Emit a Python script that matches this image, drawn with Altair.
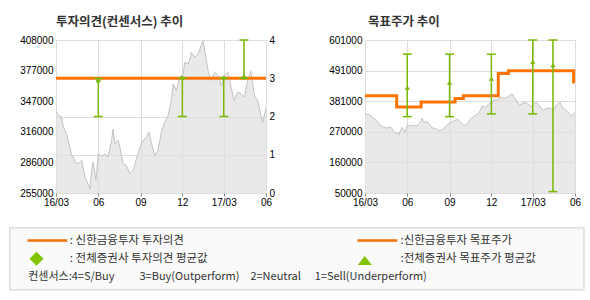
import altair as alt
import pandas as pd

# ---------------- data ----------------
price_dates = [
    "2016-03-01", "2016-03-06", "2016-03-13", "2016-03-17", "2016-03-24", "2016-03-31",
    "2016-04-04", "2016-04-08", "2016-04-11", "2016-04-19", "2016-04-26", "2016-05-03",
    "2016-05-08", "2016-05-14", "2016-05-17", "2016-05-21", "2016-05-27", "2016-06-01",
    "2016-06-08", "2016-06-15", "2016-06-22", "2016-06-30", "2016-07-03", "2016-07-07",
    "2016-07-14", "2016-07-18", "2016-07-25", "2016-08-01", "2016-08-09", "2016-08-16",
    "2016-08-23", "2016-08-31", "2016-09-07", "2016-09-14", "2016-09-19", "2016-09-25",
    "2016-10-02", "2016-10-09", "2016-10-17", "2016-10-24", "2016-10-31", "2016-11-07",
    "2016-11-11", "2016-11-18", "2016-11-25", "2016-12-03", "2016-12-06", "2016-12-14",
    "2016-12-21", "2016-12-28", "2017-01-04", "2017-01-11", "2017-01-15", "2017-01-20",
    "2017-01-26", "2017-02-01", "2017-02-10", "2017-02-17", "2017-02-24", "2017-03-03",
    "2017-03-10", "2017-03-17", "2017-03-24", "2017-03-31", "2017-04-08", "2017-04-15",
    "2017-04-22", "2017-04-29", "2017-05-07", "2017-05-14", "2017-05-21", "2017-05-25",
    "2017-06-01",
]
price_values = [
    337500, 332500, 331000, 320900, 314200, 300900,
    292600, 291000, 286000, 284300, 287600, 271000,
    266000, 259000, 276000, 286000, 267700, 294300,
    291000, 294300, 291000, 307600, 319000, 304000,
    307600, 300900, 284300, 282600, 274300, 277600,
    289300, 300900, 307600, 310900, 315900, 304200,
    292600, 297600, 317500, 325900, 332500, 347500,
    364000, 357400, 370800, 374100, 385700, 384000,
    395700, 390700, 394000, 402300, 407300, 394000,
    377400, 367400, 375700, 372400, 362400, 372400,
    375700, 360800, 347500, 355800, 354100, 350800,
    367400, 376700, 352500, 347500, 332500, 325900,
    340800,
]

# Shinhan investment opinion (constant Buy)
shinhan_op_dates = ["2016-03-01", "2017-06-01"]
shinhan_op_values = [3, 3]

# consensus investment opinion
cons_op_dates = ["2016-06-01", "2016-12-01", "2017-03-01", "2017-04-14"]
cons_op_mean = [2.93, 3.0, 3.0, 3.02]
cons_op_low = [2, 2, 2, 3]
cons_op_high = [3, 3, 3, 4]

# Shinhan target price
tp_dates = ["2016-03-01", "2016-05-09", "2016-07-01", "2016-09-13", "2016-10-01",
            "2016-12-16", "2017-01-07", "2017-05-29", "2017-06-01"]
tp_values = [400000, 360000, 378000, 390000, 400000, 480000, 490000, 450000, 450000]

# consensus target price
cons_tp_dates = ["2016-06-01", "2016-09-01", "2016-12-01", "2017-03-01", "2017-04-14"]
cons_tp_mean = [429000, 447000, 461000, 522000, 510000]
cons_tp_low = [325000, 325000, 335000, 335000, 55000]
cons_tp_high = [550000, 550000, 550000, 601000, 601000]

x_tick_dates = ["2016-03-01", "2016-06-01", "2016-09-01", "2016-12-01", "2017-03-01", "2017-06-01"]
left_ticks = [255000, 285600, 316200, 346800, 377400, 408000]
right_ticks = [50000, 160200, 270400, 380600, 490800, 601000]
op_ticks = [0, 1, 2, 3, 4]

title_left = "투자의견(컨센서스) 추이"
title_right = "목표주가 추이"
legend_texts = [": 신한금융투자 투자의견", ": 전체증권사 투자의견 평균값",
                ":신한금융투자 목표주가", ":전체증권사 목표주가 평균값"]
consensus_texts = ["컨센서스:4=S/Buy", "3=Buy(Outperform)", "2=Neutral", "1=Sell(Underperform)"]

# ---------------- style ----------------
FONT_KR = "Noto Sans CJK KR"
FONT_NUM = "Liberation Sans"
GREEN = "#78b900"
GREEN_LEG = "#80c400"
ORANGE = "#ff7300"
ORANGE_LEG = "#f07000"
W, H = 210, 153


def dt(s):
    y, m, d = map(int, s.split("-"))
    return alt.DateTime(year=y, month=m, date=d, utc=True)


x_scale = alt.Scale(type="utc", domain=[dt("2016-03-01"), dt("2017-06-01")])
x_axis = alt.Axis(
    title=None, values=[dt(s) for s in x_tick_dates],
    labelExpr="utcFormat(datum.value, utcmonth(datum.value) == 2 ? '%y/%m' : '%m')",
    grid=True, labelFlush=False, labelOverlap=False, domain=False,
    ticks=True, tickSize=3, labelPadding=1,
)


def X(field="date"):
    return alt.X(f"{field}:T", scale=x_scale, axis=x_axis)


price_df = pd.DataFrame({"date": price_dates, "price": price_values})

# ---------------- left panel ----------------
area_left = alt.Chart(price_df).mark_area(
    color="#e0e0e0", line={"color": "#c2c2c2", "strokeWidth": 1}, clip=True
).encode(
    x=X(),
    y=alt.Y("price:Q", scale=alt.Scale(domain=[255000, 408000], zero=False, nice=False),
            axis=alt.Axis(title=None, values=left_ticks, grid=False, domain=False, ticks=False,
                          labelPadding=3,
                          labelExpr="format(round(datum.value/1000)*1000, 'd')")),
)

op_axis = alt.Axis(title=None, orient="right", values=op_ticks, grid=True, domain=False,
                   ticks=False, labelPadding=3, format="d")
op_scale = alt.Scale(domain=[0, 4], nice=False, zero=True)

op_line_df = pd.DataFrame({"date": shinhan_op_dates, "v": shinhan_op_values})
op_line = alt.Chart(op_line_df).mark_line(color=ORANGE, strokeWidth=3).encode(
    x=X(), y=alt.Y("v:Q", scale=op_scale, axis=op_axis))

cons_op_df = pd.DataFrame({"date": cons_op_dates, "mean": cons_op_mean,
                           "lo": cons_op_low, "hi": cons_op_high})
op_rule = alt.Chart(cons_op_df).mark_rule(color=GREEN, strokeWidth=1.5).encode(
    x=X(), y=alt.Y("lo:Q", scale=op_scale, axis=op_axis), y2="hi:Q")
op_caps_df = pd.DataFrame({"date": cons_op_dates * 2, "v": cons_op_low + cons_op_high})
op_caps = alt.Chart(op_caps_df).mark_tick(color=GREEN, orient="horizontal", size=9,
                                          thickness=1.5, opacity=1).encode(
    x=X(), y=alt.Y("v:Q", scale=op_scale, axis=op_axis))
op_marks = alt.Chart(cons_op_df).mark_point(shape="diamond", filled=True, size=30,
                                            color=GREEN, opacity=1).encode(
    x=X(), y=alt.Y("mean:Q", scale=op_scale, axis=op_axis))

op_group = alt.layer(op_line, op_rule, op_caps, op_marks)

# legend (drawn under the left panel, pixel positions)
one = pd.DataFrame({"k": [0]})


def ltext(txt, x, y, size=11.5):
    return alt.Chart(one).mark_text(text=txt, font=FONT_KR, fontSize=size, color="#333333",
                                    align="left", baseline="middle").encode(
        x=alt.value(x), y=alt.value(y))


leg_box = alt.Chart(one).mark_rect(fill="#fafafa", stroke="#dddddd", strokeWidth=1.5).encode(
    x=alt.value(-46.2), x2=alt.value(527.9), y=alt.value(187.8), y2=alt.value(249.8))
leg_line1 = alt.Chart(one).mark_rule(color=ORANGE_LEG, strokeWidth=2.5).encode(
    x=alt.value(-28.5), x2=alt.value(11.2), y=alt.value(200.5))
leg_line2 = alt.Chart(one).mark_rule(color=ORANGE_LEG, strokeWidth=2.5).encode(
    x=alt.value(301.5), x2=alt.value(341.2), y=alt.value(200.5))
leg_diam = alt.Chart(one).mark_point(shape="diamond", filled=True, size=196, color=GREEN_LEG,
                                     opacity=1).encode(x=alt.value(-19.5), y=alt.value(218.8))
leg_tri = alt.Chart(one).mark_point(shape="M-1,0.65L1,0.65L0,-0.65Z", filled=True, size=196,
                                    color=GREEN_LEG, opacity=1).encode(
    x=alt.value(308.8), y=alt.value(220.5))

legend_layers = [
    leg_box, leg_line1, leg_line2, leg_diam, leg_tri,
    ltext(legend_texts[0], 13.8, 200.5), ltext(legend_texts[1], 13.8, 218.8),
    ltext(legend_texts[2], 344.5, 200.5), ltext(legend_texts[3], 344.5, 218.8),
    ltext(consensus_texts[0], -27.8, 237.2, 11), ltext(consensus_texts[1], 83.5, 237.2, 11),
    ltext(consensus_texts[2], 194.4, 237.2, 11), ltext(consensus_texts[3], 258.7, 237.2, 11),
]


def title(txt, dx=0):
    return alt.TitleParams(text=txt, anchor="start", frame="group", font=FONT_KR, fontSize=12.5,
                           fontWeight="bold", color="#333333", offset=7, dx=dx)


left = alt.layer(area_left, op_group, *legend_layers).resolve_scale(y="independent").properties(
    width=W, height=H, title=title(title_left))

# ---------------- right panel ----------------
tp_scale = alt.Scale(domain=[50000, 601000], zero=False, nice=False)
tp_axis = alt.Axis(title=None, values=right_ticks, grid=True, domain=False, ticks=False,
                   labelPadding=3, labelExpr="format(round(datum.value/1000)*1000, 'd')")

area_right = alt.Chart(price_df).mark_area(
    color="#e0e0e0", line={"color": "#c2c2c2", "strokeWidth": 1}, clip=True
).encode(x=X(), y=alt.Y("price:Q", scale=tp_scale, axis=tp_axis))

tp_df = pd.DataFrame({"date": tp_dates, "v": tp_values})
tp_line = alt.Chart(tp_df).mark_line(color=ORANGE, strokeWidth=3, interpolate="step-after").encode(
    x=X(), y=alt.Y("v:Q", scale=tp_scale, axis=tp_axis))

cons_tp_df = pd.DataFrame({"date": cons_tp_dates, "mean": cons_tp_mean,
                           "lo": cons_tp_low, "hi": cons_tp_high})
tp_rule = alt.Chart(cons_tp_df).mark_rule(color=GREEN, strokeWidth=1.5).encode(
    x=X(), y=alt.Y("lo:Q", scale=tp_scale, axis=tp_axis), y2="hi:Q")
tp_caps_df = pd.DataFrame({"date": cons_tp_dates * 2, "v": cons_tp_low + cons_tp_high})
tp_caps = alt.Chart(tp_caps_df).mark_tick(color=GREEN, orient="horizontal", size=9,
                                          thickness=1.5, opacity=1).encode(
    x=X(), y=alt.Y("v:Q", scale=tp_scale, axis=tp_axis))
tp_marks = alt.Chart(cons_tp_df).mark_point(shape="M-1,0.7L1,0.7L0,-0.7Z", filled=True, size=30,
                                            color=GREEN, opacity=1).encode(
    x=X(), y=alt.Y("mean:Q", scale=tp_scale, axis=tp_axis))

right = alt.layer(area_right, tp_line, tp_rule, tp_caps, tp_marks).properties(
    width=W, height=H, title=title(title_right, dx=3))

chart = alt.hconcat(left, right, spacing=99, bounds="flush").properties(
    padding={"left": 8, "top": 15, "right": 4, "bottom": 2}
).configure_view(stroke="#b4b4b4", strokeWidth=1).configure_axis(
    labelFont=FONT_NUM, labelFontSize=11, labelColor="#666666", tickColor="#aaaaaa",
    gridColor="#e6e6e6", gridWidth=1.5,
).configure(background="white")

chart.save("out.html", embed_options={"renderer": "svg", "actions": False})
